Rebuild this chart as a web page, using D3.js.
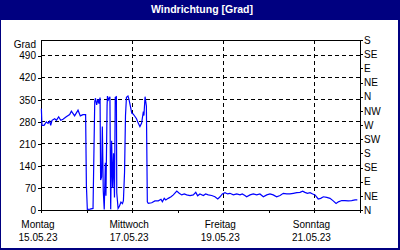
<!DOCTYPE html>
<html>
<head>
<meta charset="UTF-8">
<title>Windrichtung</title>
<script src="https://d3js.org/d3.v7.min.js"></script>
<style>
  body { margin: 0; }
  svg { display: block; font-family: "Liberation Sans", Arial, sans-serif; }
  .grid line { stroke: #000; stroke-dasharray: 4,3; shape-rendering: crispEdges; }
  .axis path, .axis line { stroke: #000; shape-rendering: crispEdges; }
  .axis text { font-size: 10px; fill: #000; }
</style>
</head>
<body>
<svg></svg>
<script>
// hours after Mon 15.05.23 00:00, and direction in degrees
const hours = [0.2, 0.5, 1.6, 2.8, 3.7, 4.6, 5.1, 5.8, 7.2, 8.1, 9.3, 10.4, 11.6, 13.3, 15.1, 16.0, 16.9, 17.7, 19.5, 20.7, 22.1, 23.5, 23.9, 24.4, 25.8, 27.4,
  28.3, 28.7, 29.3, 30.0, 30.5, 31.1, 31.4, 31.9, 32.3, 32.8, 33.3, 33.9, 34.2, 34.8, 35.0, 35.5, 36.3, 36.7, 37.2, 37.7, 38.2, 38.7, 39.1, 39.7, 39.9, 40.6, 41.3, 42.1, 42.9, 43.4, 44.0, 44.5, 45.0, 45.8, 46.3,
  46.9, 47.8, 48.5, 49.5, 50.3, 51.2, 52.1, 53.0, 53.9, 54.2, 54.8, 55.5, 56.0, 56.5, 58.3, 60.0, 61.8, 63.2, 63.9, 64.9, 65.7, 67.0, 68.5, 69.7, 71.5, 72.8, 74.1, 75.5, 76.7, 78.5, 80.2, 81.5, 82.5, 83.7, 85.5, 86.7, 88.1, 89.9,
  91.6, 93.1, 94.3, 95.5, 96.9, 98.3, 99.5, 101.3, 103.1, 104.8, 106.0, 107.4, 108.3, 110.1, 111.8, 113.6, 115.3, 117.1, 118.9, 120.6, 122.3, 124.1, 125.9, 127.6, 129.4, 131.1, 132.9, 134.7, 136.4, 137.8, 139.0, 140.3, 141.7, 143.1, 144.3,
  146.0, 147.3, 148.7, 150.5, 152.2, 153.9, 155.4, 156.6, 158.4, 160.1, 161.8, 163.6, 165.4, 166.6];
const degrees = [322, 269, 269, 280, 275, 282, 269, 285, 290, 285, 296, 285, 288, 296, 303, 314, 306, 299, 317, 299, 303, 303, 79, 2, 3, 5,
  344, 355, 334, 352, 338, 357, 95, 105, 265, 60, 2, 150, 45, 330, 362, 350, 360, 2, 220, 70, 180, 40, 358, 360, 55, 5, 12, 25, 20, 30, 120, 300, 358, 362, 352,
  335, 308, 305, 297, 290, 276, 265, 276, 313, 300, 360, 330, 26, 21, 23, 29, 29, 34, 26, 37, 32, 37, 42, 48, 60, 53, 48, 51, 48, 46, 48, 56, 45, 51, 46, 51, 48, 46,
  42, 35, 42, 51, 55, 51, 53, 48, 51, 48, 51, 46, 42, 48, 51, 48, 51, 42, 48, 51, 48, 42, 46, 53, 51, 51, 53, 55, 56, 60, 56, 53, 55, 51, 48,
  35, 37, 42, 40, 37, 29, 21, 26, 30, 30, 29, 30, 32, 32];

const leftTicks = [0, 70, 140, 210, 280, 350, 420, 490];
const dirTicks = [0, 45, 90, 135, 180, 225, 270, 315, 360, 405, 450, 495, 540];
const dirLabels = ["N", "NE", "E", "SE", "S", "SW", "W", "NW", "N", "NE", "E", "SE", "S"];
const dayNames = ["Montag", "Mittwoch", "Freitag", "Sonntag"];
const dayDates = ["15.05.23", "17.05.23", "19.05.23", "21.05.23"];
const title = "Windrichtung [Grad]";
const unit = "Grad";

const width = 400, height = 250;
const margins = { top: 40, right: 40, bottom: 40, left: 41 };
const chartWidth = width - margins.left - margins.right;
const chartHeight = height - margins.top - margins.bottom;

const start = new Date(Date.UTC(2023, 4, 15));
const end = new Date(Date.UTC(2023, 4, 22));

let svg = d3.select("svg").attr("width", width).attr("height", height);

// window frame + title bar
svg.append("rect").attr("width", width).attr("height", height).attr("fill", "#000080");
svg.append("rect").attr("x", 1).attr("y", 20).attr("width", 397).attr("height", 228).attr("fill", "#fff");
svg.append("text")
  .attr("x", 202).attr("y", 13)
  .attr("text-anchor", "middle")
  .attr("fill", "#fff")
  .style("font-size", "10.5px")
  .style("font-weight", "bold")
  .text(title);

let chartArea = svg.append("g").attr("transform", `translate(${margins.left}, ${margins.top})`);

const xScale = d3.scaleUtc().domain([start, end]).range([0, chartWidth]);
const yScale = d3.scaleLinear().domain([0, 540]).range([chartHeight, 0]);

// grid lines
chartArea.append("g").attr("class", "grid")
  .selectAll("line").data(leftTicks.slice(1)).join("line")
  .attr("x1", 0).attr("x2", chartWidth)
  .attr("y1", d => yScale(d)).attr("y2", d => yScale(d));

const gridDays = d3.utcDay.range(start, end).filter((d, i) => i % 2 === 0 && i > 0);
chartArea.append("g").attr("class", "grid")
  .selectAll("line").data(gridDays).join("line")
  .attr("x1", d => xScale(d)).attr("x2", d => xScale(d))
  .attr("y1", 0).attr("y2", chartHeight);

// frame
chartArea.append("rect")
  .attr("width", chartWidth).attr("height", chartHeight)
  .attr("fill", "none").attr("stroke", "#000")
  .style("shape-rendering", "crispEdges");

// axes
chartArea.append("g").attr("class", "axis")
  .call(d3.axisLeft(yScale).tickValues(leftTicks).tickSize(3).tickPadding(2).tickSizeOuter(0));

chartArea.append("g").attr("class", "axis")
  .attr("transform", `translate(${chartWidth}, 0)`)
  .call(d3.axisRight(yScale).tickValues(dirTicks).tickSize(3).tickPadding(1).tickSizeOuter(0)
    .tickFormat((d, i) => dirLabels[i]));

chartArea.append("g").attr("class", "axis")
  .attr("transform", `translate(0, ${chartHeight})`)
  .call(d3.axisBottom(xScale).ticks(d3.utcDay.every(1)).tickSize(3).tickSizeOuter(0).tickFormat(""));

chartArea.append("text")
  .attr("x", -5).attr("y", 5).attr("dy", "0.32em")
  .attr("text-anchor", "end")
  .style("font-size", "10px")
  .text(unit);

// day labels
const labelDays = d3.utcDay.range(start, end).filter((d, i) => i % 2 === 0);
labelDays.forEach((d, i) => {
  chartArea.append("text")
    .attr("x", xScale(d) - 3).attr("y", chartHeight + 17.5)
    .attr("text-anchor", "middle").style("font-size", "10px")
    .text(dayNames[i]);
  chartArea.append("text")
    .attr("x", xScale(d) - 3).attr("y", chartHeight + 31)
    .attr("text-anchor", "middle").style("font-size", "10px")
    .text(dayDates[i]);
});

// series
const data = hours.map((h, i) => ({ t: new Date(start.getTime() + h * 3600000), v: degrees[i] }));
const line = d3.line().x(d => xScale(d.t)).y(d => yScale(d.v));
chartArea.append("path")
  .datum(data)
  .attr("d", line)
  .attr("fill", "none")
  .attr("stroke", "#0000ff")
  .attr("stroke-width", 1.2);
</script>
</body>
</html>
